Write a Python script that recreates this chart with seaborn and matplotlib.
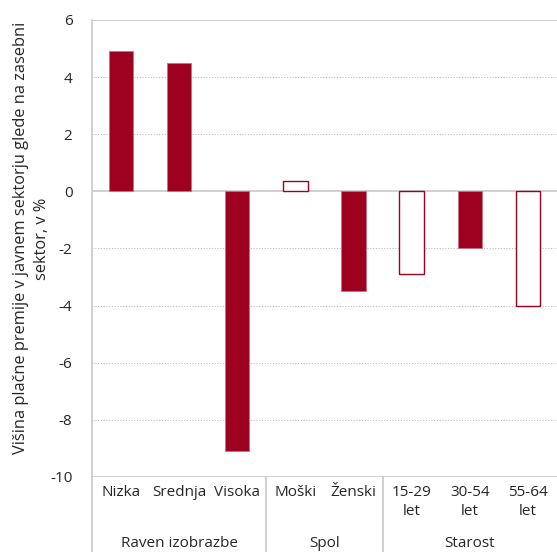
import matplotlib
matplotlib.use("Agg")
import matplotlib.pyplot as plt
import matplotlib.transforms as mtransforms
import seaborn as sns
import pandas as pd

# ── Data ──────────────────────────────────────────────────────
categories = ["Nizka", "Srednja", "Visoka", "Moški", "Ženski",
              "15-29\nlet", "30-54\nlet", "55-64\nlet"]
values = [4.9, 4.5, -9.1, 0.35, -3.5, -2.9, -2.0, -4.0]
filled = [True, True, True, False, True, False, True, False]
groups = ["Raven izobrazbe", "Spol", "Starost"]
group_sizes = [3, 2, 3]

red = "#9E0020"

sns.set_theme(style="white")
plt.rcParams['font.family'] = ['Open Sans', 'DejaVu Sans']

df = pd.DataFrame({"kat": categories, "val": values})

fig = plt.figure(figsize=(5.57, 5.52), dpi=100)
ax = fig.add_axes([0.165, 0.136, 0.835, 0.828])

sns.barplot(data=df, x="kat", y="val", color=red, width=0.42,
            saturation=1, ax=ax, zorder=3)

# hollow bars for the non-filled ones
for patch, f in zip(ax.patches, filled):
    if not f:
        patch.set_facecolor("white")
        patch.set_edgecolor(red)
        patch.set_linewidth(1.0)
    else:
        patch.set_edgecolor("#c9707f")
        patch.set_linewidth(0.6)

ax.set_ylim(-10, 6)
ax.set_xlim(-0.5, len(categories) - 0.5)
ax.set_yticks(range(-10, 7, 2))
ax.set_yticklabels([str(v) for v in range(-10, 7, 2)], fontsize=11)
ax.tick_params(axis="y", length=0, pad=14)
ax.tick_params(axis="x", length=0, pad=6, labelsize=11)
for lbl in ax.get_xticklabels():
    lbl.set_linespacing(1.3)

# grid lines
for yv in range(-8, 6, 2):
    if yv == 0:
        ax.axhline(0, color="#c8c8c8", lw=1.2, zorder=2)
    else:
        ax.axhline(yv, color="#bdbdbd", lw=0.8, ls=(0, (1, 1.5)), zorder=1)
ax.axhline(6, color="#c8c8c8", lw=1.2, zorder=2)
ax.axhline(-10, color="#c8c8c8", lw=1.2, zorder=2)

for s in ["top", "right", "bottom"]:
    ax.spines[s].set_visible(False)
ax.spines["left"].set_color("#c8c8c8")
ax.spines["left"].set_linewidth(1.2)

ax.set_xlabel("")
ax.set_ylabel("Višina plačne premije v javnem sektorju glede na zasebni\nsektor, v %",
              fontsize=11.8, linespacing=1.4, va="center")
ax.yaxis.set_label_coords(-0.13, 0.522)

# group separators and labels below the axis
trans = mtransforms.blended_transform_factory(ax.transData, ax.transAxes)
start = 0
for name, n in zip(groups, group_sizes):
    left = start - 0.5
    ax.plot([left, left], [0, -0.175], color="#c8c8c8", lw=1.2,
            transform=trans, clip_on=False)
    ax.text(start + (n - 1) / 2, -0.145, name, ha="center", va="center",
            fontsize=11, transform=trans)
    start += n

plt.savefig("out.png", dpi=100)
